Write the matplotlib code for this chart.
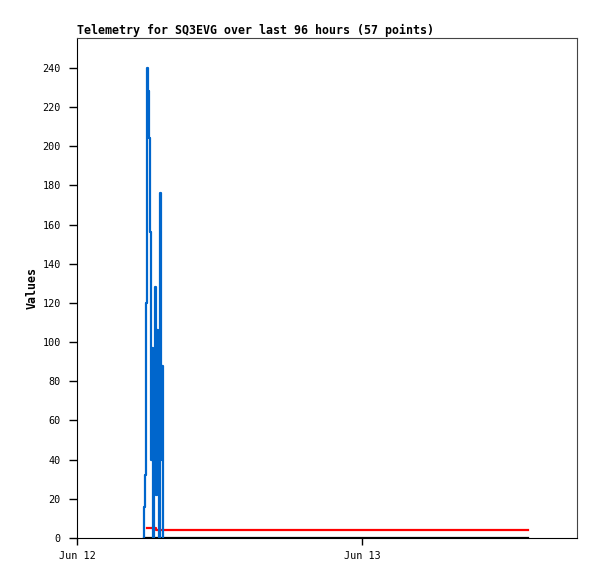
import matplotlib.pyplot as plt

# hours since Jun 12 00:00
blue_t = [5.64, 5.66, 5.73, 5.81, 5.90, 5.98, 6.06, 6.11, 6.15, 6.23, 6.27,
          6.32, 6.36, 6.40, 6.48, 6.52, 6.57, 6.65, 6.70, 6.74, 6.78, 6.82,
          6.87, 6.91, 6.95, 6.99, 7.03, 7.07, 7.12, 7.16, 7.21]
blue_v = [0, 16, 32, 120, 240, 228, 204, 180, 156, 96, 40,
          97, 60, 0, 88, 40, 128, 22, 80, 106, 40, 88,
          50, 0, 20, 176, 60, 88, 40, 88, 0]
red_t = [5.90, 6.57, 6.65, 37.98]
red_v = [5, 5, 4, 4]
black_t = [5.64, 37.98]
black_v = [0, 0]

tick_pos = [0, 24]
tick_labels = ['Jun 12', 'Jun 13']

fig = plt.figure(figsize=(5.97, 5.79), dpi=100)
ax = fig.add_axes([0.129, 0.0708, 0.8375, 0.8636])

ax.plot(black_t, black_v, color='black', lw=1.6, drawstyle='steps-post')
ax.plot(red_t, red_v, color='#ff0000', lw=1.6, drawstyle='steps-post')
ax.plot(blue_t, blue_v, color='#0066cc', lw=1.6, drawstyle='steps-post')

ax.set_xlim(0, 42.1)
ax.set_ylim(0, 255.3)
ax.set_yticks(range(0, 241, 20))
ax.set_xticks(tick_pos)
ax.set_xticklabels(tick_labels)

ax.tick_params(direction='out', width=1, labelsize=7.3, colors='black')
ax.tick_params(axis='y', length=5.8, pad=5.8)
ax.tick_params(axis='x', length=5, pad=4.3)
for lab in ax.get_xticklabels() + ax.get_yticklabels():
    lab.set_family('DejaVu Sans Mono')

for s in ['left', 'bottom']:
    ax.spines[s].set_color('black')
for s in ['top', 'right']:
    ax.spines[s].set_color('#444444')

ax.set_ylabel('Values', family='DejaVu Sans Mono', fontweight='bold',
              fontsize=8.4, labelpad=3)
ax.set_title('Telemetry for SQ3EVG over last 96 hours (57 points)',
             family='DejaVu Sans Mono', fontweight='bold', fontsize=8.4,
             loc='left', pad=3)

fig.savefig('out.png', dpi=100)
